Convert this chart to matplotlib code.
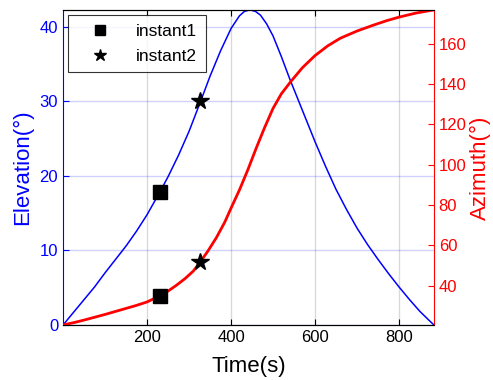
import matplotlib
matplotlib.use("Agg")
import matplotlib.pyplot as plt

plt.rcParams['font.family'] = ['Liberation Sans', 'DejaVu Sans']

# values
t_elev = [0, 25, 50, 75, 100, 125, 150, 175, 200, 231, 250, 275, 300, 326, 350,
          375, 400, 420, 432, 445, 458, 470, 485, 500, 520, 540, 560, 580, 600,
          625, 650, 675, 700, 725, 750, 775, 800, 825, 850, 870, 883]
elevation = [0, 1.7, 3.4, 5.1, 7.0, 8.8, 10.6, 12.6, 14.8, 17.9, 19.9, 22.8, 26.0,
             29.8, 33.4, 36.8, 39.8, 41.5, 42.1, 42.3, 42.1, 41.6, 40.4, 38.8,
             36.0, 33.0, 30.2, 27.4, 24.6, 21.3, 18.2, 15.5, 13.0, 10.8, 8.8,
             6.9, 5.1, 3.4, 1.8, 0.7, 0]
t_azim = [0, 25, 50, 75, 100, 125, 150, 175, 200, 231, 250, 270, 290, 310, 326,
          345, 365, 385, 400, 420, 440, 460, 480, 500, 520, 543, 570, 600, 630,
          660, 700, 740, 770, 800, 840, 883]
azimuth = [20.5, 21.6, 22.9, 24.3, 25.7, 27.2, 28.7, 30.2, 31.9, 35.0, 37.3,
           40.2, 43.4, 47.2, 51.5, 57.2, 63.8, 71.5, 78.5, 87.5, 97.5, 108.3,
           118.5, 128.0, 135.3, 141.5, 148.2, 154.2, 159.0, 162.8, 166.4, 169.4,
           171.5, 173.3, 175.3, 176.9]

t_inst = [231, 326]
elev_inst = [17.9, 30.1]
azim_inst = [35.0, 51.7]
inst_names = ["instant1", "instant2"]
inst_markers = ["s", "*"]
inst_sizes = [10, 13]

fig = plt.figure(figsize=(4.93, 3.8), dpi=100)
ax = fig.add_axes([0.128, 0.145, 0.752, 0.829])
ax2 = ax.twinx()

ax.plot(t_elev, elevation, color="blue", lw=1.1, zorder=2)
ax2.plot(t_azim, azimuth, color="red", lw=2.0, zorder=2)

handles = []
for i in range(2):
    h, = ax.plot(t_inst[i], elev_inst[i], ls="none", marker=inst_markers[i],
                 color="black", ms=inst_sizes[i], label=inst_names[i], zorder=5)
    ax2.plot(t_inst[i], azim_inst[i], ls="none", marker=inst_markers[i],
             color="black", ms=inst_sizes[i], zorder=5)
    handles.append(h)

ax.set_xlim(0, 883)
ax.set_ylim(0, 42.3)
ax2.set_ylim(20.5, 176.9)
ax.set_xticks([200, 400, 600, 800])
ax.set_yticks([0, 10, 20, 30, 40])
ax2.set_yticks([40, 60, 80, 100, 120, 140, 160])

ax.grid(axis="x", color="black", alpha=0.15, lw=1)
ax.grid(axis="y", color="blue", alpha=0.18, lw=1)

ax.tick_params(axis="x", direction="in", top=True, labelsize=12, colors="black", length=4)
ax.tick_params(axis="y", direction="in", labelsize=12, colors="blue", length=4)
ax2.tick_params(axis="y", direction="in", labelsize=12, colors="red", length=4)

ax.spines["left"].set_color("blue")
ax2.spines["left"].set_visible(False)
ax2.spines["right"].set_color("red")
ax.spines["right"].set_visible(False)

ax.set_xlabel("Time(s)", fontsize=16, labelpad=8)
ax.set_ylabel("Elevation(°)", fontsize=16, color="blue", labelpad=5)
ax2.set_ylabel("Azimuth(°)", fontsize=16, color="red", labelpad=2)

leg = ax2.legend(handles, inst_names, loc="upper left", fontsize=12.5,
                 frameon=True, fancybox=False, edgecolor="black",
                 borderaxespad=0.3, borderpad=0.5, handlelength=2.7,
                 handletextpad=0.7, labelspacing=0.55, markerscale=0.7)
leg.get_frame().set_linewidth(0.8)
ax2.set_zorder(1)

fig.savefig("out.png", dpi=100)
